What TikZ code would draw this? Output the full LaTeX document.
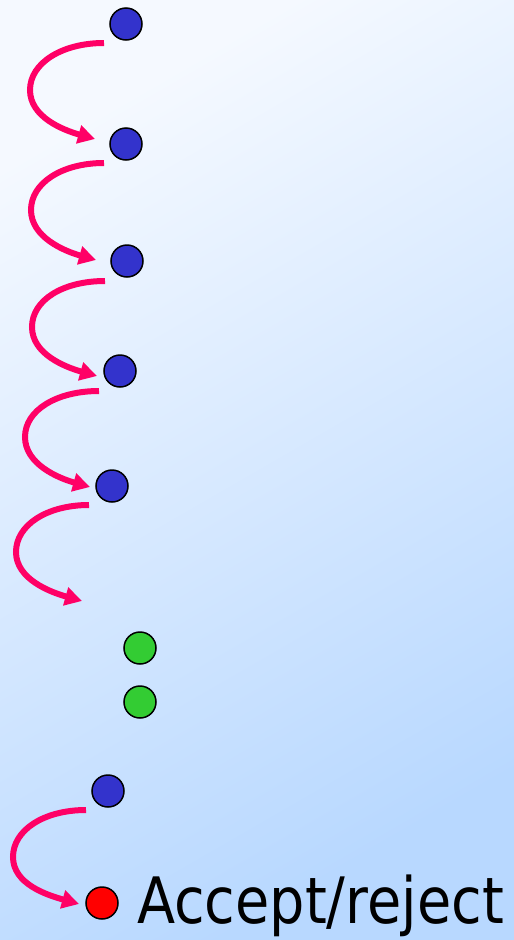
\documentclass[tikz,border=0pt]{standalone}
\usepackage{fontspec}
\setmainfont{DejaVu Sans}
\usetikzlibrary{arrows.meta}
\definecolor{bgA}{HTML}{F5F9FF}
\definecolor{bgB}{HTML}{B8D8FF}
\definecolor{dotblue}{HTML}{3333CC}
\definecolor{dotgreen}{HTML}{33CC33}
\definecolor{dotred}{HTML}{FF0000}
\definecolor{arrpink}{HTML}{FF0066}
\begin{document}
\begin{tikzpicture}[x=1pt,y=-1pt,
  dot/.style={circle,draw=black,line width=1.5pt,minimum size=32pt,inner sep=0pt},
  bluedot/.style={dot,fill=dotblue},
  greendot/.style={dot,fill=dotgreen},
  reddot/.style={dot,fill=dotred},
  looparrow/.style={draw=arrpink,line width=6pt,-{Triangle[length=17pt,width=18pt]}}]
\useasboundingbox (0,0) rectangle (514,940);
\shade[top color=bgA,bottom color=bgB,shading angle=30] (0,0) rectangle (514,940);
% dots
\node[bluedot] (b1) at (126,24) {};
\node[bluedot] (b2) at (126,144) {};
\node[bluedot] (b3) at (127,261) {};
\node[bluedot] (b4) at (120,371) {};
\node[bluedot] (b5) at (112,486) {};
\node[greendot] (g1) at (140,648) {};
\node[greendot] (g2) at (140,702) {};
\node[bluedot] (b6) at (108,791) {};
\node[reddot] (r1) at (102,903) {};
\node[anchor=base west,inner sep=0pt,xscale=0.87] (lbl) at (137,923) {\fontsize{64}{68}\selectfont Accept/reject};
% arrow end points
\coordinate (s1) at (104,43);  \coordinate (l1) at (30,90);  \coordinate (t1) at (95,139);
\coordinate (s2) at (104,163); \coordinate (l2) at (31,210); \coordinate (t2) at (96,260);
\coordinate (s3) at (105,281); \coordinate (l3) at (32,327); \coordinate (t3) at (97,376);
\coordinate (s4) at (99,391);  \coordinate (l4) at (25,437); \coordinate (t4) at (90,487);
\coordinate (s5) at (89,505);  \coordinate (l5) at (16,552); \coordinate (t5) at (82,601);
\coordinate (s6) at (86,810);  \coordinate (l6) at (13,857); \coordinate (t6) at (79,904);
\foreach \i in {1,...,6}{
  \draw[looparrow] (s\i) .. controls +(-42,0) and +(0,-27) .. (l\i)
                         .. controls +(0,27) and +(-32,-9) .. (t\i);
}
\end{tikzpicture}
\end{document}
